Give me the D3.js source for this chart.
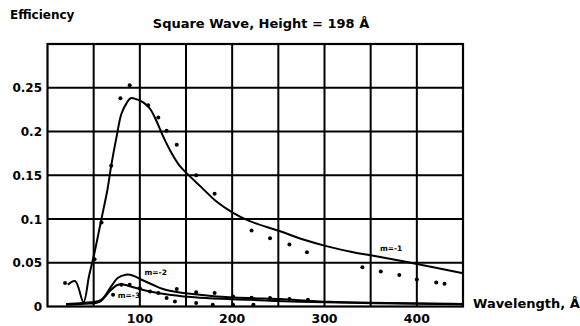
<!DOCTYPE html>
<html>
<head>
<meta charset="utf-8">
<script src="https://cdn.jsdelivr.net/npm/d3@7"></script>
<style>
  body { margin: 0; background: #fff; }
  svg text { font-family: "DejaVu Sans", "Liberation Sans", sans-serif; font-weight: bold; fill: #000; }
</style>
</head>
<body>
<svg id="chart" width="580" height="326"></svg>
<script>
// efficiency curves (wavelength in Å, efficiency)
const curveM1 = [[22, 0.025], [30, 0.029], [39, 0.005], [45, 0.035], [51, 0.062], [58, 0.098], [65, 0.134],
  [69, 0.161], [75, 0.195], [80, 0.220], [86, 0.233], [90, 0.238], [96, 0.237], [104, 0.233], [111, 0.226],
  [118, 0.212], [125, 0.195], [134, 0.176], [143, 0.161], [154, 0.149], [166, 0.137], [183, 0.120],
  [201, 0.107], [219, 0.0975], [252, 0.086], [277, 0.0765], [302, 0.069], [331, 0.062], [353, 0.058],
  [400, 0.0486], [450, 0.038]]
const curveM2 = [[20, 0.003], [38, 0.004], [58, 0.0077], [69, 0.023], [76, 0.0326], [85, 0.0364],
  [93, 0.0352], [102, 0.0306], [114, 0.0249], [125, 0.020], [147, 0.0154], [165, 0.0134], [183, 0.0115],
  [219, 0.0096], [252, 0.0085], [306, 0.0054], [450, 0.003]]
const curveM3 = [[20, 0.002], [40, 0.003], [57, 0.0057], [67, 0.0172], [75, 0.0243], [80, 0.0255],
  [89, 0.0232], [111, 0.0172], [132, 0.0134], [165, 0.010], [219, 0.0077], [273, 0.0054], [450, 0.0025]]

// measured points
const pointsM1 = [[19, 0.027], [51, 0.054], [58.5, 0.096], [69, 0.161], [79, 0.238], [89, 0.253],
  [109, 0.230], [120, 0.216], [129, 0.201], [140, 0.185], [161, 0.150], [181, 0.129], [221, 0.087],
  [241, 0.078], [262, 0.071], [281, 0.062], [341, 0.045], [361, 0.040], [381, 0.036], [400, 0.031],
  [421, 0.0275], [430, 0.026]]
const pointsM2 = [[80, 0.025], [89, 0.025], [100, 0.021], [111, 0.0172], [120, 0.0154], [140, 0.020],
  [161, 0.0163], [181, 0.0154], [201, 0.0115], [221, 0.010], [241, 0.0096], [262, 0.0085], [282, 0.0077]]
const pointsM3 = [[71, 0.0134], [129, 0.0096], [138, 0.0057], [161, 0.004], [179, 0.002], [201, 0.002],
  [223, 0.002]]

const xTicks = [100, 200, 300, 400]
const yTicks = [0, 0.05, 0.1, 0.15, 0.2, 0.25]
const xGrid = [50, 100, 150, 200, 250, 300, 350, 400]
const yGrid = [0.05, 0.1, 0.15, 0.2, 0.25]

const curveLabels = [
  {text: "m=-1", at: [360, 0.063]},
  {text: "m=-2", at: [105, 0.036]},
  {text: "m=-3", at: [76, 0.010]}
]

const titleText = "Square Wave, Height = 198 Å"
const yTitle = "Efficiency"
const xTitle = "Wavelength, Å"

const svg = d3.select("#chart")
const margin = {left: 47.5, right: 117, top: 44, bottom: 19.5}
const W = +svg.attr("width"), H = +svg.attr("height")

const x = d3.scaleLinear().domain([0, 450]).range([margin.left, W - margin.right])
const y = d3.scaleLinear().domain([0, 0.3]).range([H - margin.bottom, margin.top])

const g = svg.append("g")

// grid
g.selectAll("line.vgrid").data(xGrid).join("line")
    .attr("class", "vgrid")
    .attr("x1", d => x(d)).attr("x2", d => x(d))
    .attr("y1", y(0.3)).attr("y2", y(0))
    .attr("stroke", "#000").attr("stroke-width", 2)
g.selectAll("line.hgrid").data(yGrid).join("line")
    .attr("class", "hgrid")
    .attr("x1", x(0)).attr("x2", x(450))
    .attr("y1", d => y(d)).attr("y2", d => y(d))
    .attr("stroke", "#000").attr("stroke-width", 2)

// frame
g.append("rect")
    .attr("x", x(0)).attr("y", y(0.3))
    .attr("width", x(450) - x(0)).attr("height", y(0) - y(0.3))
    .attr("fill", "none").attr("stroke", "#000").attr("stroke-width", 2.2)

// curves
const line = d3.line()
    .x(d => x(d[0])).y(d => y(d[1]))
    .curve(d3.curveCatmullRom.alpha(0.5))

g.selectAll("path.curve").data([curveM1, curveM2, curveM3]).join("path")
    .attr("class", "curve")
    .attr("d", line)
    .attr("fill", "none").attr("stroke", "#000").attr("stroke-width", 2)

// measured points
g.selectAll("circle.pt").data([...pointsM1, ...pointsM2, ...pointsM3]).join("circle")
    .attr("class", "pt")
    .attr("cx", d => x(d[0])).attr("cy", d => y(d[1]))
    .attr("r", 2).attr("fill", "#000")

// curve labels
g.selectAll("text.clabel").data(curveLabels).join("text")
    .attr("class", "clabel")
    .attr("x", d => x(d.at[0])).attr("y", d => y(d.at[1]))
    .attr("font-size", 7.5)
    .text(d => d.text)

// tick labels
g.selectAll("text.ylab").data(yTicks).join("text")
    .attr("class", "ylab")
    .attr("x", 42).attr("y", d => y(d) + 4.5)
    .attr("text-anchor", "end")
    .attr("font-size", 12)
    .text(d => d === 0 ? "0" : d3.format(".2~f")(d))
g.selectAll("text.xlab").data(xTicks).join("text")
    .attr("class", "xlab")
    .attr("x", d => x(d)).attr("y", 323)
    .attr("text-anchor", "middle")
    .attr("font-size", 12.5)
    .text(d => d)

// titles
svg.append("text").attr("x", 10).attr("y", 19).attr("font-size", 12).text(yTitle)
svg.append("text").attr("x", 261).attr("y", 28).attr("text-anchor", "middle")
    .attr("font-size", 13).text(titleText)
svg.append("text").attr("x", 473).attr("y", 308).attr("font-size", 13).text(xTitle)
</script>
</body>
</html>
